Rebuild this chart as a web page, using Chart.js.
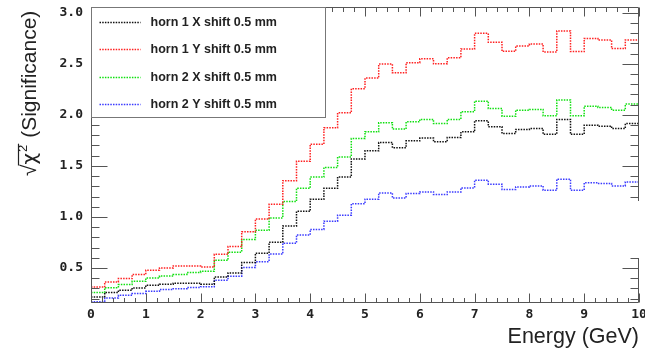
<!DOCTYPE html>
<html lang="en">
<head>
<meta charset="UTF-8">
<title>Significance vs energy</title>
<script src="https://cdn.jsdelivr.net/npm/chart.js@4.4.0/dist/chart.umd.min.js"></script>
<style>
    body { margin: 0; background: #fff; }
</style>
</head>
<body>
<canvas id="myChart" width="645" height="350"></canvas>

<script>
    // histogram binning (GeV)
    const nBins = 40;
    const eMin = 0;
    const eMax = 10;

    const xTickLabels = [0, 1, 2, 3, 4, 5, 6, 7, 8, 9, 10];
    const yTickLabels = [0.5, 1.0, 1.5, 2.0, 2.5, 3.0];

    const seriesNames = [
        'horn 1 X shift 0.5 mm',
        'horn 1 Y shift 0.5 mm',
        'horn 2 X shift 0.5 mm',
        'horn 2 Y shift 0.5 mm'
    ];
    const seriesColors = ['#111111', '#ff2020', '#10e010', '#3a3aff'];

    // sqrt(chi2) per bin
    const horn1X = [0.216, 0.259, 0.282, 0.305, 0.331, 0.340, 0.350, 0.350, 0.340, 0.412,
                    0.451, 0.553, 0.645, 0.752, 0.912, 1.055, 1.172, 1.280, 1.392, 1.568,
                    1.647, 1.729, 1.677, 1.745, 1.772, 1.736, 1.778, 1.833, 1.941, 1.883,
                    1.817, 1.857, 1.866, 1.810, 1.955, 1.810, 1.899, 1.889, 1.866, 1.915];
    const horn1Y = [0.314, 0.363, 0.396, 0.435, 0.477, 0.500, 0.520, 0.520, 0.510, 0.634,
                    0.710, 0.855, 0.980, 1.124, 1.355, 1.545, 1.713, 1.874, 2.020, 2.255,
                    2.360, 2.497, 2.412, 2.510, 2.549, 2.500, 2.559, 2.644, 2.798, 2.710,
                    2.622, 2.674, 2.693, 2.615, 2.822, 2.620, 2.748, 2.732, 2.649, 2.732];
    const horn2X = [0.259, 0.307, 0.337, 0.369, 0.402, 0.421, 0.437, 0.455, 0.467, 0.575,
                    0.655, 0.778, 0.870, 0.990, 1.150, 1.280, 1.390, 1.484, 1.588, 1.768,
                    1.833, 1.922, 1.860, 1.931, 1.955, 1.915, 1.955, 2.030, 2.134, 2.062,
                    1.987, 2.046, 2.053, 1.990, 2.144, 1.990, 2.085, 2.072, 2.046, 2.105];
    const horn2Y = [0.170, 0.206, 0.232, 0.249, 0.271, 0.288, 0.297, 0.310, 0.317, 0.380,
                    0.420, 0.504, 0.562, 0.637, 0.742, 0.824, 0.878, 0.958, 1.017, 1.128,
                    1.174, 1.235, 1.186, 1.229, 1.245, 1.219, 1.245, 1.284, 1.360, 1.321,
                    1.268, 1.294, 1.304, 1.262, 1.370, 1.262, 1.334, 1.327, 1.304, 1.343];

    const allSeries = [horn1X, horn1Y, horn2X, horn2Y];

    // one point per low bin edge, plus the closing edge at eMax
    function histPoints(values) {
        const w = (eMax - eMin) / nBins;
        const pts = values.map((v, i) => ({ x: eMin + i * w, y: v }));
        pts.push({ x: eMax, y: values[values.length - 1] });
        return pts;
    }

    const DOT = [1.5, 1.2];
    const monoBold = { family: 'DejaVu Sans Mono', size: 13, weight: 'bold' };

    // frame, inner ticks, legend box and axis titles (ROOT style)
    const rootFrame = {
        id: 'rootFrame',
        afterDraw(chart) {
            const ctx = chart.ctx;
            const a = chart.chartArea;
            const xs = chart.scales.x, ys = chart.scales.y;
            const L = Math.round(a.left) + 0.5, R = Math.round(a.right) - 0.5;
            const T = Math.round(a.top) + 0.5, B = Math.round(a.bottom) - 0.5;
            ctx.save();
            ctx.strokeStyle = '#555';
            ctx.lineWidth = 1;
            ctx.beginPath();
            ctx.moveTo(L, T); ctx.lineTo(R, T);
            ctx.moveTo(L, T); ctx.lineTo(L, B); ctx.lineTo(R, B);
            // right side is broken between these values
            const gapTop = Math.round(ys.getPixelForValue(1.16));
            const gapBot = Math.round(ys.getPixelForValue(0.6));
            ctx.moveTo(R, T); ctx.lineTo(R, gapTop);
            ctx.moveTo(R, gapBot); ctx.lineTo(R, B);

            // x ticks, every 0.2 GeV
            for (let k = 0; k <= 50; k++) {
                const v = k * 0.2;
                const px = Math.round(xs.getPixelForValue(v)) + 0.5;
                const len = (k % 5 === 0) ? 9 : 4.5;
                ctx.moveTo(px, B); ctx.lineTo(px, B - len);
                ctx.moveTo(px, T); ctx.lineTo(px, T + len);
            }
            // y ticks, every 0.1
            for (let k = 2; k <= 30; k++) {
                const v = k / 10;
                const py = Math.round(ys.getPixelForValue(v)) + 0.5;
                const len = (k % 5 === 0) ? 16 : 8;
                ctx.moveTo(L, py); ctx.lineTo(L + len, py);
                if (py < gapTop || py > gapBot) {
                    ctx.moveTo(R, py); ctx.lineTo(R - len, py);
                }
            }
            ctx.stroke();

            // legend
            const lx = L, ly = T, lw = 234, lh = 110;
            ctx.fillStyle = '#fff';
            ctx.fillRect(lx, ly, lw, lh);
            ctx.strokeStyle = '#777';
            ctx.strokeRect(lx, ly, lw, lh);
            ctx.font = 'bold 12.5px "Liberation Sans", Arial, sans-serif';
            ctx.textBaseline = 'middle';
            ctx.textAlign = 'left';
            const rowsY = [22, 49, 77, 104];
            chart.data.datasets.forEach((ds, i) => {
                const ry = rowsY[i] + 0.5;
                ctx.save();
                ctx.strokeStyle = ds.borderColor;
                ctx.lineWidth = 1.5;
                ctx.setLineDash(DOT);
                ctx.beginPath();
                ctx.moveTo(lx + 8, ry); ctx.lineTo(lx + 49, ry);
                ctx.stroke();
                ctx.restore();
                ctx.fillStyle = '#222';
                ctx.fillText(ds.label, lx + 59, ry);
            });

            // x title
            ctx.fillStyle = '#222';
            ctx.font = '21.5px "Liberation Sans", Arial, sans-serif';
            ctx.textAlign = 'right';
            ctx.textBaseline = 'alphabetic';
            ctx.fillText('Energy (GeV)', a.right, 343);

            // y title: sqrt(chi^2) (Significance), rotated, flush with the top
            ctx.save();
            ctx.translate(36, 176);
            ctx.rotate(-Math.PI / 2);
            ctx.textAlign = 'left';
            const f = '21px "Liberation Sans", Arial, sans-serif';
            ctx.font = f;
            let x = 0;
            ctx.fillText('\u221A', x, 0);
            x += ctx.measureText('\u221A').width;
            const barStart = x - 1;
            ctx.font = '20px "DejaVu Sans", sans-serif';
            ctx.fillText('\u03C7', x, 0);
            x += ctx.measureText('\u03C7').width;
            ctx.font = '13px "Liberation Sans", Arial, sans-serif';
            ctx.fillText('2', x + 1, -9);
            x += ctx.measureText('2').width + 2;
            ctx.strokeStyle = '#222';
            ctx.lineWidth = 1.2;
            ctx.beginPath();
            ctx.moveTo(barStart, -17.5); ctx.lineTo(x, -17.5);
            ctx.stroke();
            ctx.font = f;
            ctx.fillText(' (Significance)', x, 0);
            ctx.restore();

            ctx.restore();
        }
    };

    const ctx = document.getElementById('myChart').getContext('2d');
    const myChart = new Chart(ctx, {
        type: 'line',
        data: {
            datasets: allSeries.map((vals, i) => ({
                label: seriesNames[i],
                data: histPoints(vals),
                borderColor: seriesColors[i],
                borderWidth: 1.5,
                borderDash: DOT,
                stepped: true,
                pointRadius: 0,
                fill: false
            }))
        },
        options: {
            responsive: false,
            devicePixelRatio: 1,
            animation: false,
            layout: { padding: { left: 0, top: 7, right: 6, bottom: 0 } },
            plugins: {
                legend: { display: false },
                tooltip: { enabled: false }
            },
            scales: {
                x: {
                    type: 'linear',
                    min: eMin,
                    max: eMax,
                    grid: { display: false, drawTicks: false },
                    border: { display: false },
                    ticks: {
                        font: monoBold,
                        color: '#222',
                        padding: 4,
                        maxRotation: 0,
                        callback: v => String(v)
                    },
                    afterBuildTicks: s => { s.ticks = xTickLabels.map(v => ({ value: v })); },
                    afterFit: s => { s.height = 47; s.paddingLeft = 0; s.paddingRight = 0; }
                },
                y: {
                    type: 'linear',
                    min: 0.157,
                    max: 3.056,
                    grid: { display: false, drawTicks: false },
                    border: { display: false },
                    ticks: {
                        font: monoBold,
                        color: '#222',
                        padding: 8,
                        callback: v => v.toFixed(1)
                    },
                    afterBuildTicks: s => { s.ticks = yTickLabels.map(v => ({ value: v })); },
                    afterFit: s => { s.width = 91; s.paddingTop = 0; s.paddingBottom = 0; }
                }
            }
        },
        plugins: [rootFrame]
    });
</script>
</body>
</html>
